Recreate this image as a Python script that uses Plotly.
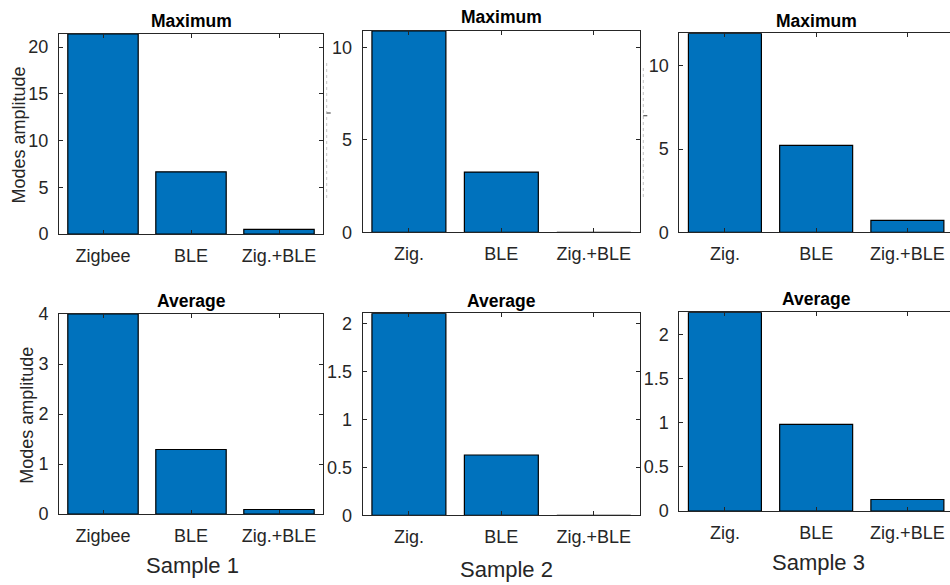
import plotly.graph_objects as go

# ---- data -------------------------------------------------------------
samples = ["Sample 1", "Sample 2", "Sample 3"]
cats_sample1 = ["Zigbee", "BLE", "Zig.+BLE"]
cats_other = ["Zig.", "BLE", "Zig.+BLE"]

maximum_s1 = [21.4, 6.65, 0.5]
maximum_s2 = [10.9, 3.26, 0.0]
maximum_s3 = [11.95, 5.22, 0.72]

average_s1 = [4.0, 1.29, 0.09]
average_s2 = [2.11, 0.63, 0.0]
average_s3 = [2.25, 0.98, 0.13]

y_dtick_max = [5, 5, 5]
y_dtick_avg = [1, 0.5, 0.5]

# ---- layout geometry (pixels) -----------------------------------------
W, H = 950, 585
# left, top, right, bottom of each plot box (right may run past the page)
boxes = [
    (59.0, 34.0, 323.0, 234.0),
    (362.7, 31.0, 640.0, 232.3),
    (679.3, 33.3, 953.0, 232.3),
    (59.0, 314.0, 323.0, 514.0),
    (362.7, 313.3, 640.0, 515.3),
    (679.3, 312.3, 953.0, 511.0),
]
title_y = [21.0, 16.5, 21.0, 301.0, 301.0, 299.0]
sample_pos = [(192.5, 565.0), (506.0, 569.7), (818.7, 562.5)]
ylabel_pos = [(18.0, 135.5), (27.5, 415.3)]
# faint dotted guide strips between the top-row panels: x, y0, y1, dash y
guides = [(326.7, 63.0, 200.0, 113.0), (643.3, 68.0, 197.0, 115.7)]

BAR = "#0072BD"
AX = "#262626"
FONT = "Liberation Sans, Arial, Helvetica, sans-serif"

series = [
    (maximum_s1, cats_sample1, y_dtick_max[0], "Maximum"),
    (maximum_s2, cats_other, y_dtick_max[1], "Maximum"),
    (maximum_s3, cats_other, y_dtick_max[2], "Maximum"),
    (average_s1, cats_sample1, y_dtick_avg[0], "Average"),
    (average_s2, cats_other, y_dtick_avg[1], "Average"),
    (average_s3, cats_other, y_dtick_avg[2], "Average"),
]

fig = go.Figure()
annotations = []
shapes = []

for i, ((vals, cats, dtick, title), (l, t, r, b)) in enumerate(zip(series, boxes)):
    n = i + 1
    xa = "x" if n == 1 else f"x{n}"
    ya = "y" if n == 1 else f"y{n}"
    fig.add_trace(go.Bar(
        x=cats, y=vals, width=0.8,
        marker=dict(color=BAR, line=dict(color="black", width=1.2)),
        xaxis=xa, yaxis=ya, showlegend=False,
    ))
    vis_r = min(r, W)
    x_end = -0.5 + 3 * (vis_r - l) / (r - l)
    clipped = vis_r < r
    xkey = "xaxis" if n == 1 else f"xaxis{n}"
    ykey = "yaxis" if n == 1 else f"yaxis{n}"
    fig.update_layout(**{
        xkey: dict(
            domain=[l / W, vis_r / W], anchor=ya, type="category",
            range=[-0.5, x_end], showline=True, linecolor=AX, linewidth=1,
            mirror="ticks", ticks="inside", ticklen=4, tickcolor=AX,
            tickfont=dict(family=FONT, size=18, color=AX),
            showgrid=False, zeroline=False, fixedrange=True,
            ticklabelstandoff=5, automargin=False,
        ),
        ykey: dict(
            domain=[1 - b / H, 1 - t / H], anchor=xa,
            range=[0, max(vals)], dtick=dtick, tick0=0,
            showline=True, linecolor=AX, linewidth=1,
            mirror=False if clipped else "ticks",
            ticks="inside", ticklen=4, tickcolor=AX,
            tickfont=dict(family=FONT, size=18, color=AX),
            showgrid=False, zeroline=False, fixedrange=True,
            ticklabelstandoff=6, automargin=False,
        ),
    })
    annotations.append(dict(
        text=f"<b>{title}</b>", x=(l + r) / 2 / W,
        y=1 - title_y[i] / H, xref="paper", yref="paper",
        xanchor="center", yanchor="middle", showarrow=False,
        font=dict(family=FONT, size=17.5, color="black"),
    ))

for name, (sx, sy) in zip(samples, sample_pos):
    annotations.append(dict(
        text=name, x=sx / W, y=1 - sy / H, xref="paper", yref="paper",
        xanchor="center", yanchor="middle", showarrow=False,
        font=dict(family=FONT, size=22, color=AX),
    ))

for (lx, ly) in ylabel_pos:
    annotations.append(dict(
        text="Modes amplitude", x=lx / W, y=1 - ly / H, xref="paper", yref="paper",
        xanchor="center", yanchor="middle", textangle=-90, showarrow=False,
        font=dict(family=FONT, size=18, color=AX),
    ))

for gx, gy0, gy1, gd in guides:
    shapes.append(dict(
        type="line", xref="paper", yref="paper",
        x0=gx / W, x1=gx / W, y0=1 - gy0 / H, y1=1 - gy1 / H,
        line=dict(color="#c4c4c4", width=1, dash="dot"),
    ))
    shapes.append(dict(
        type="line", xref="paper", yref="paper",
        x0=gx / W, x1=(gx + 4) / W, y0=1 - gd / H, y1=1 - gd / H,
        line=dict(color="#555555", width=1.2),
    ))

fig.update_layout(
    width=W, height=H, margin=dict(l=0, r=0, t=0, b=0, autoexpand=False),
    paper_bgcolor="white", plot_bgcolor="white",
    annotations=annotations, shapes=shapes, bargap=0.2,
)

fig.write_html("out.html")
